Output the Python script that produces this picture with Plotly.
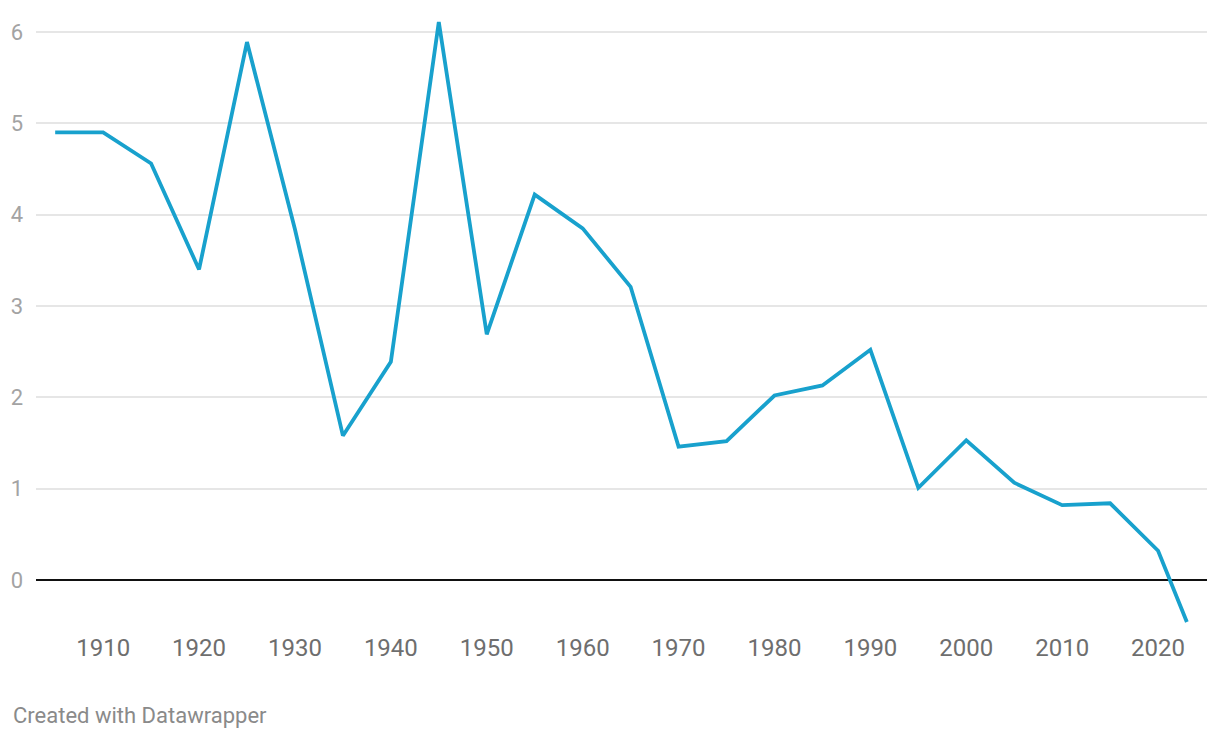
import plotly.graph_objects as go

years = [1905, 1910, 1915, 1920, 1925, 1930, 1935, 1940, 1945, 1950, 1955, 1960,
         1965, 1970, 1975, 1980, 1985, 1990, 1995, 2000, 2005, 2010, 2015, 2020, 2023]
values = [4.90, 4.90, 4.56, 3.40, 5.89, 3.84, 1.58, 2.39, 6.11, 2.69, 4.22, 3.85,
          3.21, 1.46, 1.52, 2.02, 2.13, 2.52, 1.01, 1.53, 1.065, 0.82, 0.84, 0.32, -0.46]

x_ticks = [1910, 1920, 1930, 1940, 1950, 1960, 1970, 1980, 1990, 2000, 2010, 2020]
y_ticks = [0, 1, 2, 3, 4, 5, 6]

fig = go.Figure()
fig.add_trace(go.Scatter(
    x=years, y=values, mode="lines",
    line=dict(color="#18a1cd", width=3.8),
    hoverinfo="x+y", showlegend=False,
))

fig.update_layout(
    width=1220, height=738,
    margin=dict(l=36, r=13, t=10, b=108),
    paper_bgcolor="white", plot_bgcolor="white",
    font=dict(family="Roboto, sans-serif"),
    xaxis=dict(
        range=[1903.0, 2025.1],
        tickmode="array", tickvals=x_ticks, ticktext=[str(t) for t in x_ticks],
        showgrid=False, zeroline=False, showline=False,
        tickfont=dict(size=24, color="#6e6e6e"),
        ticks="", ticklabelstandoff=1,
    ),
    yaxis=dict(
        range=[-0.5475, 6.241],
        tickmode="array", tickvals=y_ticks, ticktext=[str(t) for t in y_ticks],
        showgrid=True, gridcolor="#e6e6e6", gridwidth=2,
        zeroline=True, zerolinecolor="#111111", zerolinewidth=2,
        showline=False,
        tickfont=dict(size=22, color="#a3a3a3"),
        ticks="", ticklabelstandoff=12,
    ),
    annotations=[dict(
        text="Created with Datawrapper", xref="paper", yref="paper",
        x=(11 - 36) / 1171, y=(630 - 715) / 620, xanchor="left", yanchor="middle",
        showarrow=False, font=dict(size=22, color="#8a8a8a", family="Roboto, sans-serif"),
    )],
)

fig.write_html("out.html")
